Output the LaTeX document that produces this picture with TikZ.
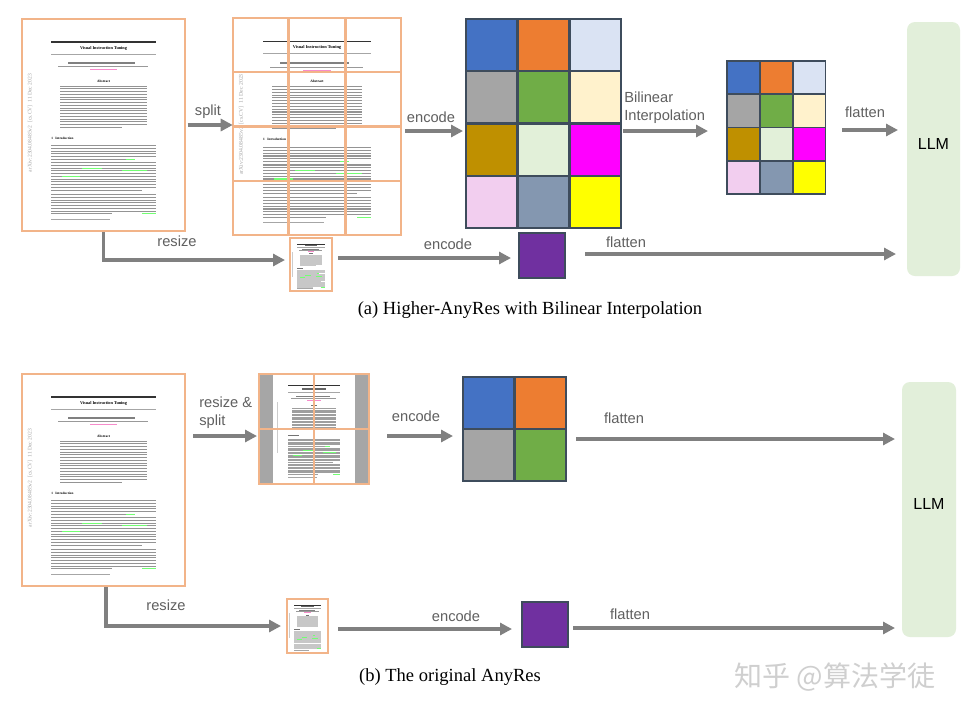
\documentclass[tikz,border=0pt]{standalone}
\usepackage{fontspec}
\setmainfont{Liberation Serif}
\setsansfont{Liberation Sans}
\newfontfamily\cjkfont{Noto Sans CJK SC}
\usetikzlibrary{arrows.meta,fit}
\definecolor{docorange}{HTML}{F2B489}
\definecolor{arrowgray}{HTML}{808080}
\definecolor{lblgray}{HTML}{606060}
\definecolor{cellb}{HTML}{3E4C5C}
\definecolor{cBlue}{HTML}{4472C4}
\definecolor{cOrange}{HTML}{ED7D31}
\definecolor{cLBlue}{HTML}{DAE3F3}
\definecolor{cGrey}{HTML}{A5A5A5}
\definecolor{cGreen}{HTML}{70AD47}
\definecolor{cLYellow}{HTML}{FFF2CC}
\definecolor{cGold}{HTML}{BF9000}
\definecolor{cLGreen}{HTML}{E2F0D9}
\definecolor{cMagenta}{HTML}{FF00FF}
\definecolor{cPink}{HTML}{F2CEEF}
\definecolor{cSlate}{HTML}{8497B0}
\definecolor{cYellow}{HTML}{FFFF00}
\definecolor{cPurple}{HTML}{7030A0}
\definecolor{llmgreen}{HTML}{E2EFDA}
\definecolor{padgray}{HTML}{A6A6A6}
\definecolor{wmgray}{HTML}{CFCFCF}

\newif\ifpapertext \papertexttrue
\def\ptextcol{black!42}

\tikzset{
  ptext/.style={fill=\ptextcol},
  garrow/.style={draw=arrowgray, line width=2.6pt, -{Triangle[length=9pt,width=9pt]}},
  lbl/.style={font=\sffamily\fontsize{11}{13.5}\selectfont, text=lblgray, inner sep=0},
  caption/.style={font=\fontsize{13.9}{16}\selectfont, text=black, inner sep=0},
  docframe/.style={draw=docorange, line width=1.1pt, inner sep=0},
  tileframe/.style={draw=docorange, line width=1.1pt},
  cellst/.style={draw=cellb, line width=0.8pt},
  region/.style={inner sep=0},
  llmst/.style={fill=llmgreen, rounded corners=6pt, inner sep=0, font=\sffamily\fontsize{12}{14}\selectfont, text=black},
}

\newcommand{\plines}[5]{%
  \pgfmathtruncatemacro{\plN}{#4-2}%
  \foreach \i in {0,...,\plN}{\fill[ptext] (#1,{#3+\i*2.75}) rectangle (#2,{#3+\i*2.75+1.1});}%
  \fill[ptext] (#1,{#3+(#4-1)*2.75}) rectangle (#5,{#3+(#4-1)*2.75+1.1});%
}

\newcommand{\paperpage}{%
  \fill[white] (0,0) rectangle (163,212);
  \fill[black!80] (29,22.2) rectangle (134,23.6);
  \ifpapertext
    \node[inner sep=0, font=\bfseries\fontsize{3.2}{3.5}\selectfont] (ptitle) at (81.5,29) {Visual Instruction Tuning};
  \else
    \fill[black!60] (57,28) rectangle (106,30.2);
  \fi
  \fill[black!35] (29,34.6) rectangle (134,35.2);
  \fill[black!50] (46,43.4) rectangle (113,44.5);
  \fill[black!40] (36,47.4) rectangle (126,48.3);
  \fill[magenta!45] (68,50.4) rectangle (95,51.3);
  \ifpapertext
    \node[inner sep=0, font=\bfseries\fontsize{2.6}{3}\selectfont] (pabs) at (81.5,62) {Abstract};
  \else
    \fill[black!55] (75,61) rectangle (88,63);
  \fi
  \plines{38}{125}{66.5}{16}{100}
  \ifpapertext
    \node[inner sep=0, anchor=west, font=\bfseries\fontsize{2.5}{3}\selectfont] (pintro) at (29,119) {1\hspace{0.7em}Introduction};
  \else
    \fill[black!55] (29,118) rectangle (51,120);
  \fi
  \plines{29}{134}{126}{6}{110}
  \plines{29}{134}{143}{11}{120}
  \plines{29}{134}{175}{8}{90}
  \fill[green!55] (104,139.75) rectangle (113,140.85);
  \fill[green!55] (60,148.5) rectangle (80,149.6);
  \fill[green!55] (100,151.25) rectangle (125,152.35);
  \fill[green!55] (40,156.75) rectangle (58,157.85);
  \fill[green!55] (120,194.25) rectangle (134,195.35);
  \fill[black!35] (29,199.5) rectangle (88,200.4);
  \ifpapertext
    \node[inner sep=0, rotate=90, text=black!35, font=\fontsize{4.2}{5}\selectfont] (parxiv) at (8,104) {arXiv:2304.08485v2\ \ [cs.CV]\ \ 11 Dec 2023};
  \else
    \fill[black!20] (7,54) rectangle (9,154);
  \fi
}

\begin{document}
\begin{tikzpicture}[x=0.75pt,y=-0.75pt]
\useasboundingbox (0,0) rectangle (972,701);
\fill[white] (0,0) rectangle (972,701);

% ================= (a) =================
\begin{scope}[shift={(22,19)}] \paperpage \end{scope}
\node[docframe, fit={(22,19)(185,231)}] (doc1) {};

\begin{scope}[shift={(233,18)}, xscale=1.0307, yscale=1.0236, transform shape] \paperpage \end{scope}
\foreach \fr in {0,...,3}{\foreach \fc in {0,...,2}{
  \draw[tileframe] ({233+\fc*56.5},{18+\fr*54.5}) rectangle ++(55,53.5);}}
\node[region, fit={(233,18)(401,235)}] (grid1) {};

\begin{scope}[shift={(290,238)}, xscale=0.2577, yscale=0.25]
  \papertextfalse \def\ptextcol{black!22} \paperpage
\end{scope}
\node[docframe, fit={(290,238)(332,291)}] (sdoc1) {};

\foreach \c [count=\k from 0] in {cBlue,cOrange,cLBlue,cGrey,cGreen,cLYellow,cGold,cLGreen,cMagenta,cPink,cSlate,cYellow}{
  \pgfmathtruncatemacro\fc{mod(\k,3)}
  \pgfmathtruncatemacro\fr{div(\k,3)}
  \filldraw[cellst, fill=\c] ({466+\fc*52},{19+\fr*52.5}) rectangle ++(51,51.5);
}
\node[region, fit={(466,19)(621,228)}] (feat1) {};

\foreach \c [count=\k from 0] in {cBlue,cOrange,cLBlue,cGrey,cGreen,cLYellow,cGold,cLGreen,cMagenta,cPink,cSlate,cYellow}{
  \pgfmathtruncatemacro\fc{mod(\k,3)}
  \pgfmathtruncatemacro\fr{div(\k,3)}
  \filldraw[cellst, fill=\c] ({727+\fc*33.3},{61+\fr*33.4}) rectangle ++(32.3,32.8);
}
\node[region, fit={(727,61)(826,194)}] (feat1s) {};

\filldraw[cellst, fill=cPurple] (519,233) rectangle (565,278);
\node[region, fit={(519,233)(565,278)}] (glob1) {};

\node[llmst, fit={(907,22)(960,276)}] (llm1) {LLM};

\coordinate (r1) at (103.5,260);
\coordinate (r1e) at (285,260);
\draw[garrow, shorten <=0.5pt] (doc1.south) -- (r1) -- (r1e);
\draw[garrow, shorten <=1.5pt] (doc1.east) -- (doc1.east -| grid1.west);
\coordinate (e1s) at (405,131); \coordinate (e1e) at (463,131);
\draw[garrow] (e1s) -- (e1e);
\coordinate (b1s) at (623,131); \coordinate (b1e) at (708,131);
\draw[garrow] (b1s) -- (b1e);
\coordinate (f1s) at (842,130); \coordinate (f1e) at (898,130);
\draw[garrow] (f1s) -- (f1e);
\coordinate (e2s) at (338,258); \coordinate (e2e) at (511,258);
\draw[garrow] (e2s) -- (e2e);
\coordinate (f2s) at (585,254); \coordinate (f2e) at (896,254);
\draw[garrow] (f2s) -- (f2e);

\node[lbl] (lsplit) at (208,112) {split};
\node[lbl] (lresize1) at (177,241) {resize};
\node[lbl] (lenc1) at (431,117) {encode};
\node[lbl, align=left, anchor=west] (lbil) at (624,108) {Bilinear\\Interpolation};
\node[lbl] (lflat1) at (865,112) {flatten};
\node[lbl] (lenc2) at (448,244) {encode};
\node[lbl] (lflat2) at (626,242) {flatten};
\node[caption] (capa) at (530,310) {(a) Higher-AnyRes with Bilinear Interpolation};

% ================= (b) =================
\begin{scope}[shift={(22,374)}] \paperpage \end{scope}
\node[docframe, fit={(22,374)(185,586)}] (doc2) {};

\fill[padgray] (259,374) rectangle (369,484);
\begin{scope}[shift={(273,374)}, xscale=0.503, yscale=0.514]
  \papertextfalse \def\ptextcol{black!38} \paperpage
\end{scope}
\foreach \fr in {0,1}{\foreach \fc in {0,1}{
  \draw[tileframe] ({259+\fc*55.5},{374+\fr*55.5}) rectangle ++(54.5,54.5);}}
\node[region, fit={(259,374)(369,484)}] (grid2) {};

\begin{scope}[shift={(287,599)}, xscale=0.2515, yscale=0.2547]
  \papertextfalse \def\ptextcol{black!22} \paperpage
\end{scope}
\node[docframe, fit={(287,599)(328,653)}] (sdoc2) {};

\foreach \c [count=\k from 0] in {cBlue,cOrange,cGrey,cGreen}{
  \pgfmathtruncatemacro\fc{mod(\k,2)}
  \pgfmathtruncatemacro\fr{div(\k,2)}
  \filldraw[cellst, fill=\c] ({463+\fc*52},{377+\fr*52.5}) rectangle ++(51,51.5);
}
\node[region, fit={(463,377)(566,481)}] (feat2) {};

\filldraw[cellst, fill=cPurple] (522,602) rectangle (568,647);
\node[region, fit={(522,602)(568,647)}] (glob2) {};

\node[llmst, fit={(902,382)(956,637)}] (llm2) {LLM};

\coordinate (s3s) at (193,436); \coordinate (s3e) at (257,436);
\draw[garrow] (s3s) -- (s3e);
\coordinate (e3s) at (387,436); \coordinate (e3e) at (453,436);
\draw[garrow] (e3s) -- (e3e);
\coordinate (f3s) at (576,439); \coordinate (f3e) at (895,439);
\draw[garrow] (f3s) -- (f3e);
\coordinate (r2) at (106,626); \coordinate (r2e) at (281,626);
\draw[garrow, shorten <=0.5pt] (doc2.south -| r2) -- (r2) -- (r2e);
\coordinate (e4s) at (338,629); \coordinate (e4e) at (512,629);
\draw[garrow] (e4s) -- (e4e);
\coordinate (f4s) at (573,628); \coordinate (f4e) at (895,628);
\draw[garrow] (f4s) -- (f4e);

\node[lbl, align=left, anchor=west] (lrs) at (199,413) {resize \&\\split};
\node[lbl] (lenc3) at (416,416) {encode};
\node[lbl] (lflat3) at (624,418) {flatten};
\node[lbl] (lresize2) at (166,605) {resize};
\node[lbl] (lenc4) at (456,616) {encode};
\node[lbl] (lflat4) at (630,614) {flatten};
\node[caption] (capb) at (450,677) {(b) The original AnyRes};

\node[inner sep=0, text=wmgray, font=\cjkfont\fontsize{21}{24}\selectfont] (wm) at (835,677) {知乎 @算法学徒};
\end{tikzpicture}
\end{document}
